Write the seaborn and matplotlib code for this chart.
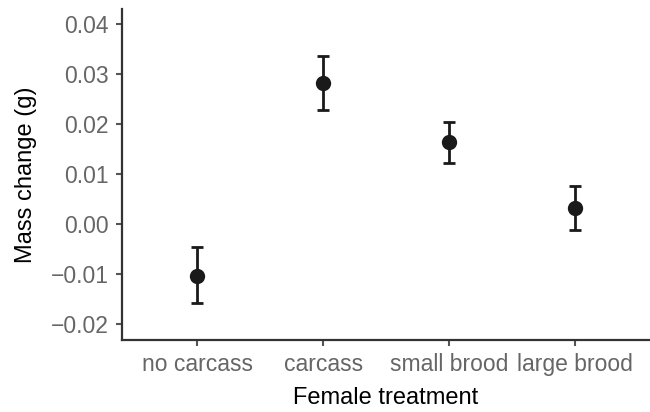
import numpy as np
import matplotlib
matplotlib.use("Agg")
import matplotlib.pyplot as plt
import seaborn as sns
import pandas as pd

# values
treatments = ["no carcass", "carcass", "small brood", "large brood"]
mass_change = [-0.0104, 0.0281, 0.0163, 0.0031]
ci_low = [-0.0159, 0.0228, 0.0122, -0.0012]
ci_high = [-0.0047, 0.0336, 0.0204, 0.0076]
y_ticks = [-0.02, -0.01, 0.00, 0.01, 0.02, 0.03, 0.04]

df = pd.DataFrame({"treatment": treatments, "mass": mass_change})

sns.set_style("white")
plt.rcParams["font.family"] = ["Liberation Sans", "DejaVu Sans"]

fig = plt.figure(figsize=(6.5, 4.12), dpi=100)
ax = fig.add_axes([0.1877, 0.1748, 0.8123, 0.8034])

ink = "#1a1a1a"
# error bars first so the points sit on top
lo = np.array(mass_change) - np.array(ci_low)
hi = np.array(ci_high) - np.array(mass_change)
ax.errorbar(np.arange(len(treatments)), mass_change, yerr=[lo, hi], fmt="none",
            ecolor=ink, elinewidth=2.0, capsize=4.5, capthick=2.0, zorder=2)
sns.pointplot(data=df, x="treatment", y="mass", order=treatments, color=ink,
              linestyle="none", markers="o", errorbar=None, ax=ax,
              markersize=9, zorder=3)

ax.set_xlim(-0.6, 3.6)
ax.set_ylim(-0.0232, 0.043)
ax.set_yticks(y_ticks)
ax.set_yticklabels([f"{v:.2f}".replace("-", "\u2212") for v in y_ticks])

ax.set_xlabel("Female treatment", fontsize=17, color="black", labelpad=8)
ax.set_ylabel("Mass change (g)", fontsize=17, color="black", labelpad=10)

for side in ["top", "right"]:
    ax.spines[side].set_visible(False)
for side in ["left", "bottom"]:
    ax.spines[side].set_color("#333333")
    ax.spines[side].set_linewidth(1.6)

ax.tick_params(axis="both", which="major", length=4.5, width=1.5, color="#555555",
               labelcolor="#666666", labelsize=16.5, direction="out",
               left=True, bottom=True)
ax.tick_params(axis="y", pad=5)
ax.tick_params(axis="x", pad=5)

fig.savefig("out.png", dpi=100)
